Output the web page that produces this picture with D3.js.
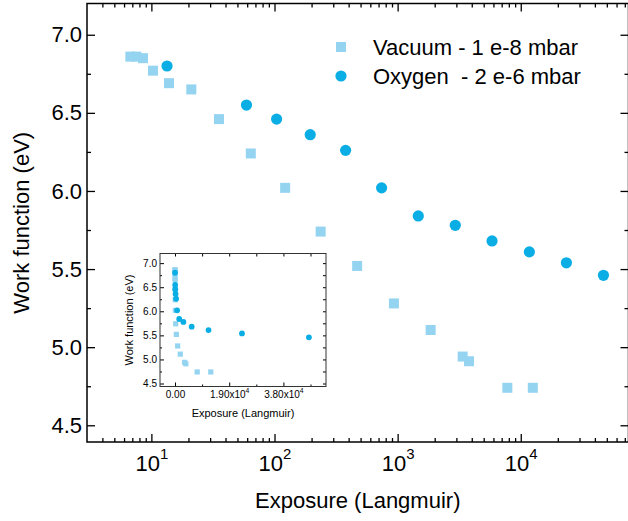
<!DOCTYPE html>
<html>
<head>
<meta charset="utf-8">
<script src="https://cdnjs.cloudflare.com/ajax/libs/d3/7.8.5/d3.min.js"></script>
<style>
  body { margin: 0; background: #fff; }
  svg { font-family: "Liberation Sans", Arial, sans-serif; }
</style>
</head>
<body>
<svg width="628" height="521"></svg>
<script>
// data
var vacuumX = [6.75, 7.55, 8.55, 10.3, 13.9, 21.1, 35.4, 64.2, 122, 237, 469, 933, 1854, 3375, 3800, 7780, 12530];
var vacuumY = [6.86, 6.86, 6.85, 6.77, 6.69, 6.65, 6.46, 6.24, 6.02, 5.74, 5.52, 5.28, 5.11, 4.94, 4.91, 4.74, 4.74];
var oxygenX = [13.4, 59.2, 104, 195, 378, 741, 1471, 2940, 5845, 11745, 23480, 46940];
var oxygenY = [6.80, 6.55, 6.46, 6.36, 6.26, 6.02, 5.84, 5.78, 5.68, 5.61, 5.54, 5.46];

var seriesNames = ["Vacuum - 1 e-8 mbar", "Oxygen  - 2 e-6 mbar"];
var xMajorTicks = [10, 100, 1000, 10000];
var yMajorTicks = [4.5, 5.0, 5.5, 6.0, 6.5, 7.0];
var yMinorTicks = [4.75, 5.25, 5.75, 6.25, 6.75];
var insetXTicks = [0, 19000, 38000];
var insetXMinor = [9500, 28500, 47500];

var sqColor = "#95d4f1";
var ciColor = "#0aaee5";

var svg = d3.select("svg");

var vacuum = vacuumX.map(function(d, i) { return {x: d, y: vacuumY[i]}; });
var oxygen = oxygenX.map(function(d, i) { return {x: d, y: oxygenY[i]}; });

/* main plot */
var L = 87, R = 628.5, T = 3.5, B = 442;
var x = d3.scaleLog().domain([3, 75000]).range([L, R]);
var y = d3.scaleLinear().domain([4.393, 7.2]).range([B, T]);

var xMinor = [];
[1, 10, 100, 1000, 10000].forEach(function(p) {
  for (var k = 2; k <= 9; k++) {
    var v = k * p;
    if (v > 3 && v < 75000 && xMajorTicks.indexOf(v) < 0) xMinor.push(v);
  }
});

var g = svg.append("g");

function sup(sel, base, exp) {
  sel.text(null);
  sel.append("tspan").text(base);
  sel.append("tspan").attr("font-size", "0.68em").attr("dy", "-0.75em").text(exp);
}

// bottom
g.append("g").attr("transform", "translate(0," + B + ")")
  .call(d3.axisBottom(x).tickValues(xMajorTicks).tickSize(-8).tickPadding(13))
  .call(function(a) {
    a.selectAll("text").attr("font-size", 22).attr("fill", "#000")
      .each(function(d) { sup(d3.select(this), "10", String(Math.round(Math.log10(d)))); });
  });
g.append("g").attr("transform", "translate(0," + B + ")")
  .call(d3.axisBottom(x).tickValues(xMinor).tickSize(-4).tickFormat(""));
// top
g.append("g").attr("transform", "translate(0," + T + ")")
  .call(d3.axisTop(x).tickValues(xMajorTicks).tickSize(-8).tickFormat(""));
g.append("g").attr("transform", "translate(0," + T + ")")
  .call(d3.axisTop(x).tickValues(xMinor).tickSize(-4).tickFormat(""));
// left
g.append("g").attr("transform", "translate(" + L + ",0)")
  .call(d3.axisLeft(y).tickValues(yMajorTicks).tickSize(-8).tickPadding(5).tickFormat(d3.format(".1f")))
  .selectAll("text").attr("font-size", 22).attr("fill", "#000");
g.append("g").attr("transform", "translate(" + L + ",0)")
  .call(d3.axisLeft(y).tickValues(yMinorTicks).tickSize(-4).tickFormat(""));
// right
g.append("g").attr("transform", "translate(" + R + ",0)")
  .call(d3.axisRight(y).tickValues(yMajorTicks).tickSize(-8).tickFormat(""));
g.append("g").attr("transform", "translate(" + R + ",0)")
  .call(d3.axisRight(y).tickValues(yMinorTicks).tickSize(-4).tickFormat(""));

g.selectAll(".domain").remove();
g.selectAll(".tick line").attr("stroke", "#000").attr("stroke-width", 1.3);
g.append("rect").attr("x", L).attr("y", T).attr("width", R - L).attr("height", B - T)
  .attr("fill", "none").attr("stroke", "#000").attr("stroke-width", 1.5);

// titles
g.append("text").attr("x", (L + R) / 2).attr("y", 508).attr("text-anchor", "middle")
  .attr("font-size", 22).text("Exposure (Langmuir)");
g.append("text").attr("transform", "translate(29," + ((T + B) / 2) + ") rotate(-90)")
  .attr("text-anchor", "middle").attr("font-size", 22).text("Work function (eV)");

// marks
g.selectAll(".vac").data(vacuum).enter().append("rect")
  .attr("x", function(d) { return x(d.x) - 5; }).attr("y", function(d) { return y(d.y) - 5; })
  .attr("width", 10).attr("height", 10).attr("fill", sqColor);
g.selectAll(".oxy").data(oxygen).enter().append("circle")
  .attr("cx", function(d) { return x(d.x); }).attr("cy", function(d) { return y(d.y); })
  .attr("r", 5.6).attr("fill", ciColor);

// legend
var lg = g.append("g");
lg.append("rect").attr("x", 336).attr("y", 42).attr("width", 10).attr("height", 10).attr("fill", sqColor);
lg.append("circle").attr("cx", 341).attr("cy", 76).attr("r", 5.6).attr("fill", ciColor);
lg.selectAll("text").data(seriesNames).enter().append("text")
  .attr("x", 373).attr("y", function(d, i) { return 47 + i * 29; }).attr("dy", "0.36em")
  .attr("font-size", 22).attr("xml:space", "preserve").style("white-space", "pre").text(function(d) { return d; });

/* inset */
var iL = 160, iR = 326, iT = 253.5, iB = 386.5;
var ix = d3.scaleLinear().domain([-5260, 52930]).range([iL, iR]);
var iy = d3.scaleLinear().domain([4.438, 7.2]).range([iB, iT]);
var ig = svg.append("g");
ig.append("rect").attr("x", iL).attr("y", iT).attr("width", iR - iL).attr("height", iB - iT).attr("fill", "#fff");

ig.append("g").attr("transform", "translate(0," + iB + ")")
  .call(d3.axisBottom(ix).tickValues(insetXTicks).tickSize(-4).tickPadding(4))
  .call(function(a) {
    a.selectAll("text").attr("font-size", 10).attr("fill", "#000")
      .each(function(d) {
        if (d === 0) d3.select(this).text("0.00");
        else sup(d3.select(this), (d / 1e4).toFixed(2) + "x10", "4");
      });
  });
ig.append("g").attr("transform", "translate(0," + iB + ")")
  .call(d3.axisBottom(ix).tickValues(insetXMinor).tickSize(-2).tickFormat(""));
ig.append("g").attr("transform", "translate(0," + iT + ")")
  .call(d3.axisTop(ix).tickValues(insetXTicks.concat(insetXMinor)).tickSize(-3).tickFormat(""));
ig.append("g").attr("transform", "translate(" + iL + ",0)")
  .call(d3.axisLeft(iy).tickValues(yMajorTicks).tickSize(-4).tickPadding(3).tickFormat(d3.format(".1f")))
  .selectAll("text").attr("font-size", 10).attr("fill", "#000");
ig.append("g").attr("transform", "translate(" + iL + ",0)")
  .call(d3.axisLeft(iy).tickValues(yMinorTicks).tickSize(-2).tickFormat(""));
ig.append("g").attr("transform", "translate(" + iR + ",0)")
  .call(d3.axisRight(iy).tickValues(yMajorTicks.concat(yMinorTicks)).tickSize(-3).tickFormat(""));
ig.selectAll(".domain").remove();
ig.selectAll(".tick line").attr("stroke", "#000").attr("stroke-width", 1);
ig.append("rect").attr("x", iL).attr("y", iT).attr("width", iR - iL).attr("height", iB - iT)
  .attr("fill", "none").attr("stroke", "#333").attr("stroke-width", 1);

ig.append("text").attr("x", (iL + iR) / 2).attr("y", 417).attr("text-anchor", "middle")
  .attr("font-size", 11).text("Exposure (Langmuir)");
ig.append("text").attr("transform", "translate(133," + ((iT + iB) / 2) + ") rotate(-90)")
  .attr("text-anchor", "middle").attr("font-size", 11).text("Work function (eV)");

ig.selectAll(".ivac").data(vacuum).enter().append("rect")
  .attr("x", function(d) { return ix(d.x) - 2.6; }).attr("y", function(d) { return iy(d.y) - 2.6; })
  .attr("width", 5.2).attr("height", 5.2).attr("fill", sqColor);
ig.selectAll(".ioxy").data(oxygen).enter().append("circle")
  .attr("cx", function(d) { return ix(d.x); }).attr("cy", function(d) { return iy(d.y); })
  .attr("r", 2.9).attr("fill", ciColor);
</script>
</body>
</html>
